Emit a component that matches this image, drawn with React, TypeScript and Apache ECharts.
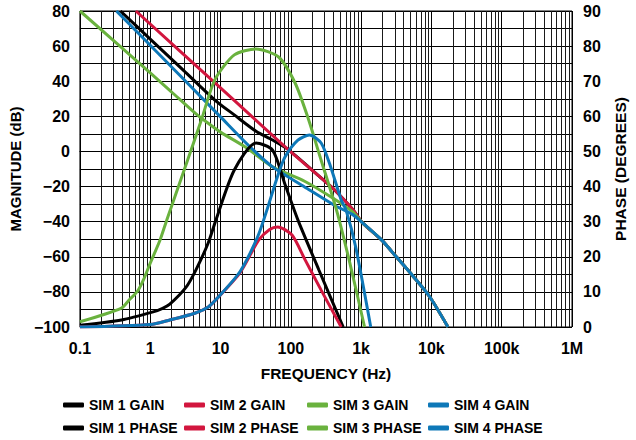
import React, { useEffect, useRef } from 'react';
import * as echarts from 'echarts';

// ---------- data ----------
const xTickLabels = ['0.1', '1', '10', '100', '1k', '10k', '100k', '1M'];
const xMin = 0.1;
const xMax = 1e6;
const gainMin = -100;
const gainMax = 80;
const gainStep = 20;
const phaseMin = 0;
const phaseMax = 90;
const phaseStep = 10;
const gridDecades = [0.1, 1, 10, 100, 1e3, 1e4, 1e5];
const gridMultipliers = [2, 3, 4, 5, 6, 7, 8, 9];

const seriesNames = [
  'SIM 1 GAIN', 'SIM 2 GAIN', 'SIM 3 GAIN', 'SIM 4 GAIN',
  'SIM 1 PHASE', 'SIM 2 PHASE', 'SIM 3 PHASE', 'SIM 4 PHASE',
];
const simColors = ['#000000', '#d2163e', '#6ab23e', '#0e78b8'];

// common high-frequency tail of all gain curves (Hz, dB)
const gainTail: [number, number][] = [
  [1050, -40.7], [1950, -50.4], [3160, -60], [5600, -71.5], [9500, -82.9], [17200, -100],
];

// gains (Hz, dB)
const sim1Gain: [number, number][] = [
  [0.377, 80], [1, 64], [3, 46], [8.3, 29.3], [15.7, 20.8], [32, 11.5], [55, 6.5],
  [92, 1], [296, -16.5], [410, -21.5], [760, -33],
];
const sim2Gain: [number, number][] = [
  [0.625, 80], [10, 36.2], [100, -0.3], [296, -16.5], [410, -21.5], [760, -33],
];
const sim3Gain: [number, number][] = [
  [0.1, 80], [1, 44.7], [2, 34], [4.4, 21.7], [6.6, 16.2], [10, 11], [23.6, 2],
  [55, -8.8], [157, -17], [410, -27], [760, -34.5],
];
const sim4Gain: [number, number][] = [
  [0.33, 80], [1, 60.5], [10, 19.7], [26, 2.8], [55, -8.8], [157, -20.2],
  [410, -30.5], [760, -36],
];

// phases (Hz, degrees)
const sim1Phase: [number, number][] = [
  [0.1, 0.5], [0.39, 2], [1.1, 4.3], [1.5, 5.3], [1.9, 6.5], [3.2, 11.2], [4.4, 16],
  [6.7, 24], [8.6, 30.5], [15.7, 44.7], [32, 52.4], [55, 50.4], [83, 40.5],
  [126, 30.5], [250, 16.3], [556, 0],
];
const sim2Phase: [number, number][] = [
  [0.1, 0], [1, 0.7], [1.9, 2], [4.4, 4], [6.7, 5.7], [9.1, 8.3], [19, 15.5],
  [35, 24.8], [50, 27.8], [65, 28.5], [104, 26.2], [157, 19.4], [270, 10.5], [521, 0],
];
const sim3Phase: [number, number][] = [
  [0.1, 1.5], [0.39, 5.4], [0.5, 7.7], [0.665, 10.3], [0.8, 13.4], [1, 18.2],
  [1.38, 24.8], [1.72, 30.5], [3.2, 46], [5.35, 59], [8.3, 70.4], [15.7, 77.5],
  [32, 79.2], [67, 76.9], [115, 69.5], [174, 59.8], [270, 47.5], [447, 33.3],
  [692, 18.2], [1120, 0],
];
const sim4Phase: [number, number][] = [
  [0.1, 0], [1, 0.7], [1.9, 2], [4.4, 4], [6.7, 5.7], [9.1, 8.3], [19, 15.8],
  [35, 26.5], [67, 43.8], [83, 48.5], [126, 53.2], [184, 54.7], [270, 52.4],
  [369, 45.6], [521, 36.2], [611, 33.3], [837, 22.8], [1370, 0],
];

const legendLefts = [63, 184, 307, 428];
const legendTops = [398, 421];

const FONT = '"Liberation Sans", Arial, Helvetica, sans-serif';

export default function App() {
  const ref = useRef<HTMLDivElement>(null);

  useEffect(() => {
    if (!ref.current) return;
    const chart = echarts.init(ref.current, undefined, { renderer: 'svg' });

    const minorFreqs: number[][] = [];
    gridDecades.forEach((d) => gridMultipliers.forEach((m) => minorFreqs.push([d * m, 0])));

    const gains = [sim1Gain, sim2Gain, sim3Gain, sim4Gain].map((g) => [...g, ...gainTail]);
    const phases = [sim1Phase, sim2Phase, sim3Phase, sim4Phase];

    const mk = (name: string, yAxisIndex: number, data: any, color: string) => ({
      name, type: 'line', yAxisIndex, data,
      showSymbol: false, symbol: 'none', smooth: 0.25, z: 3,
      lineStyle: { color, width: 3 }, itemStyle: { color },
    });

    const lineSeries: any[] = [];
    gains.forEach((d, i) => lineSeries.push(mk(seriesNames[i], 0, d, simColors[i])));
    phases.forEach((d, i) => lineSeries.push(mk(seriesNames[4 + i], 1, d, simColors[i])));

    const legends: any[] = seriesNames.map((n, i) => ({
      data: [n],
      left: legendLefts[i % 4],
      top: legendTops[Math.floor(i / 4)],
      icon: 'roundRect',
      itemWidth: 21,
      itemHeight: 5,
      itemGap: 0,
      padding: 0,
      selectedMode: false,
      textStyle: { fontFamily: FONT, fontWeight: 'bold', fontSize: 14, color: '#000' },
    }));

    const axisLabelStyle = { fontFamily: FONT, fontWeight: 'bold', fontSize: 16, color: '#000' };
    const nameStyle = { fontFamily: FONT, fontWeight: 'bold', fontSize: 15, color: '#000' };

    chart.setOption({
      animation: false,
      backgroundColor: '#fff',
      grid: {
        left: 67, right: 59, top: 11, bottom: 113, containLabel: false,
        show: true, borderColor: '#000', borderWidth: 1, backgroundColor: 'transparent',
      },
      legend: legends,
      xAxis: {
        type: 'log', logBase: 10, min: xMin, max: xMax,
        name: 'FREQUENCY (Hz)', nameLocation: 'middle', nameGap: 38,
        nameTextStyle: { ...nameStyle, fontSize: 15.5 },
        axisLine: { show: true, lineStyle: { color: '#000', width: 1 } },
        axisTick: { show: false },
        axisLabel: {
          ...axisLabelStyle, margin: 13, showMinLabel: true, showMaxLabel: true,
          formatter: (v: number) => xTickLabels[Math.round(Math.log10(v)) + 1] ?? '',
        },
        splitLine: { show: true, lineStyle: { color: '#000', width: 1 } },
      },
      yAxis: [
        {
          type: 'value', min: gainMin, max: gainMax, interval: gainStep,
          name: 'MAGNITUDE (dB)', nameLocation: 'middle', nameRotate: 90, nameGap: 49,
          nameTextStyle: nameStyle,
          axisLine: { show: true, lineStyle: { color: '#000', width: 1 } },
          axisTick: { show: false },
          axisLabel: {
            ...axisLabelStyle, margin: 10,
            formatter: (v: number) => (v < 0 ? '\u2212' + Math.abs(v) : String(v)),
          },
          splitLine: { show: true, lineStyle: { color: '#000', width: 1 } },
          minorTick: { show: false, splitNumber: 2 },
          minorSplitLine: { show: true, lineStyle: { color: '#000', width: 1 } },
        },
        {
          type: 'value', min: phaseMin, max: phaseMax, interval: phaseStep,
          name: 'PHASE (DEGREES)', nameLocation: 'middle', nameRotate: 90, nameGap: 40,
          nameTextStyle: { ...nameStyle, fontSize: 15.5 },
          axisLine: { show: false },
          axisTick: { show: false },
          axisLabel: { ...axisLabelStyle, margin: 11 },
          splitLine: { show: false },
        },
      ],
      series: [
        {
          type: 'custom', silent: true, z: 1, xAxisIndex: 0, yAxisIndex: 0,
          data: minorFreqs, encode: { x: 0, y: 1 },
          renderItem: (_p: any, api: any) => {
            const f = api.value(0);
            const a = api.coord([f, gainMax]);
            const b = api.coord([f, gainMin]);
            const x = Math.round(a[0]) + 0.5;
            return {
              type: 'line',
              shape: { x1: x, y1: a[1], x2: x, y2: b[1] },
              style: { stroke: '#1a1a1a', lineWidth: 1 },
            };
          },
        },
        ...lineSeries,
      ],
    });

    return () => chart.dispose();
  }, []);

  return (
    <div
      ref={ref}
      style={{ position: 'fixed', left: 0, top: 0, width: 636, height: 440, background: '#fff' }}
    />
  );
}
